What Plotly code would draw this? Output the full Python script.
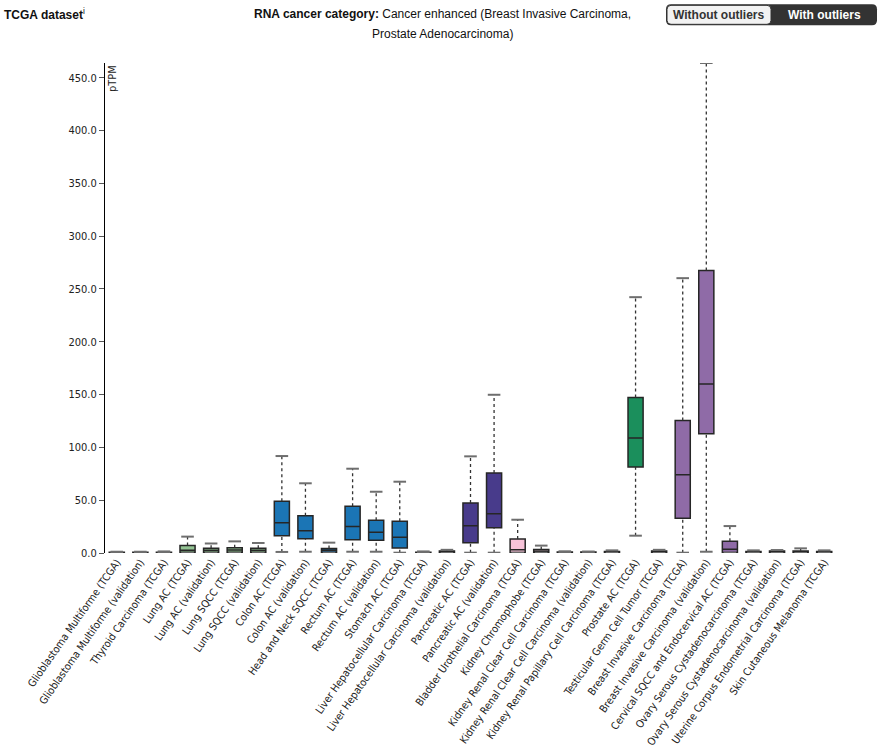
import plotly.graph_objects as go

categories = [
    "Glioblastoma Multiforme (TCGA)", "Glioblastoma Multiforme (validation)",
    "Thyroid Carcinoma (TCGA)", "Lung AC (TCGA)", "Lung AC (validation)",
    "Lung SQCC (TCGA)", "Lung SQCC (validation)", "Colon AC (TCGA)",
    "Colon AC (validation)", "Head and Neck SQCC (TCGA)", "Rectum AC (TCGA)",
    "Rectum AC (validation)", "Stomach AC (TCGA)",
    "Liver Hepatocellular Carcinoma (TCGA)",
    "Liver Hepatocellular Carcinoma (validation)", "Pancreatic AC (TCGA)",
    "Pancreatic AC (validation)", "Bladder Urothelial Carcinoma (TCGA)",
    "Kidney Chromophobe (TCGA)", "Kidney Renal Clear Cell Carcinoma (TCGA)",
    "Kidney Renal Clear Cell Carcinoma (validation)",
    "Kidney Renal Papillary Cell Carcinoma (TCGA)", "Prostate AC (TCGA)",
    "Testicular Germ Cell Tumor (TCGA)", "Breast Invasive Carcinoma (TCGA)",
    "Breast Invasive Carcinoma (validation)",
    "Cervical SQCC and Endocervical AC (TCGA)",
    "Ovary Serous Cystadenocarcinoma (TCGA)",
    "Ovary Serous Cystadenocarcinoma (validation)",
    "Uterine Corpus Endometrial Carcinoma (TCGA)",
    "Skin Cutaneous Melanoma (TCGA)",
]

lower = [0.0, 0.0, 0.0, 0.0, 0.0, 0.0, 0.0, 1.0, 1.2, 0.2, 1.2, 1.2, 0.3, 0.0, 0.0,
         0.3, 0.3, 0.2, 0.2, 0.0, 0.0, 0.0, 16.4, 0.0, 0.3, 1.2, 0.3, 0.0, 0.0, 0.0, 0.0]
q1 = [0.1, 0.1, 0.2, 0.8, 0.8, 0.8, 0.8, 16.4, 13.5, 0.6, 12.6, 12.1, 4.7, 0.2, 0.4,
      9.8, 24.0, 0.4, 0.3, 0.2, 0.2, 0.3, 81.4, 0.4, 32.8, 112.9, 0.4, 0.3, 0.4, 0.4, 0.3]
median = [0.3, 0.3, 0.4, 2.5, 2.5, 2.8, 2.5, 28.7, 21.0, 2.5, 25.2, 19.6, 14.8, 0.4, 1.0,
          25.8, 37.2, 3.0, 1.6, 0.5, 0.5, 0.8, 108.8, 1.0, 74.0, 159.9, 3.6, 0.8, 1.0, 1.0, 0.8]
q3 = [0.6, 0.6, 0.8, 7.0, 4.5, 5.0, 4.5, 48.9, 35.2, 4.2, 44.2, 30.9, 30.0, 0.8, 1.8,
      47.3, 75.7, 13.2, 3.4, 0.9, 0.9, 1.5, 147.3, 1.8, 125.5, 267.5, 11.2, 1.5, 1.8, 2.0, 1.5]
upper = [1.2, 1.2, 1.5, 15.5, 9.0, 11.0, 9.5, 91.8, 66.0, 9.8, 79.8, 58.0, 67.5, 1.5, 3.0,
         91.5, 149.8, 31.5, 7.0, 1.6, 1.4, 2.5, 242.2, 3.0, 260.2, 463.9, 25.5, 2.5, 2.8, 4.4, 2.5]

box_colors = [
    "#9a9a9a", "#9a9a9a", "#c9a0dc", "#93c393", "#93c393", "#93c393", "#93c393",
    "#1b75b5", "#1b75b5", "#1b75b5", "#1b75b5", "#1b75b5", "#1b75b5",
    "#7b3f00", "#7b3f00", "#483b8b", "#483b8b", "#f7c3d9", "#f9d9e6",
    "#f7c3d9", "#f7c3d9", "#f7c3d9", "#1b8f5c", "#1b8f5c", "#8f6ba7", "#8f6ba7",
    "#8f6ba7", "#8f6ba7", "#8f6ba7", "#8f6ba7", "#555555",
]

y_title = "pTPM"

fig = go.Figure()

# dashed whiskers
wx, wy = [], []
for c, lo, a, b, hi in zip(categories, lower, q1, q3, upper):
    wx += [c, c, None, c, c, None]
    wy += [b, hi, None, lo, a, None]
fig.add_trace(go.Scatter(x=wx, y=wy, mode="lines", hoverinfo="skip",
                         line=dict(color="#333333", width=1.3, dash="3px,3px"),
                         showlegend=False))
# whisker caps
fig.add_trace(go.Scatter(x=categories + categories, y=upper + lower, mode="markers",
                         hoverinfo="skip", showlegend=False,
                         marker=dict(symbol="line-ew", size=9,
                                     line=dict(color="#6e6e6e", width=2))))

for c, lo, a, m, b, hi, col in zip(categories, lower, q1, median, q3, upper, box_colors):
    fig.add_trace(go.Box(x=[c], q1=[a], median=[m], q3=[b], lowerfence=[a], upperfence=[b],
                         fillcolor=col, line=dict(color="#262626", width=1.5),
                         width=0.64, showlegend=False, name=c, boxpoints=False))

# pixel -> paper helpers
L, R, T, B = 105, 836, 62.7, 553


def px(x):
    return (x - L) / (R - L)


def py(y):
    return (B - y) / (B - T)


def rrect(x0, y0, x1, y1, r):
    X0, X1, Y0, Y1 = px(x0), px(x1), py(y0), py(y1)
    rx, ry = r / (R - L), r / (B - T)
    return (f"M {X0+rx},{Y0} L {X1-rx},{Y0} Q {X1},{Y0} {X1},{Y0-ry} "
            f"L {X1},{Y1+ry} Q {X1},{Y1} {X1-rx},{Y1} L {X0+rx},{Y1} "
            f"Q {X0},{Y1} {X0},{Y1+ry} L {X0},{Y0-ry} Q {X0},{Y0} {X0+rx},{Y0} Z")


shapes = [
    dict(type="path", xref="paper", yref="paper", path=rrect(666, 4, 877, 25, 5),
         fillcolor="#333333", line=dict(width=0)),
    dict(type="path", xref="paper", yref="paper", path=rrect(667, 5, 771, 24, 4),
         fillcolor="#f2f2f2", line=dict(color="#333333", width=1)),
]

font_main = "Liberation Sans, Arial, sans-serif"
font_tick = "DejaVu Sans Condensed, Liberation Sans, sans-serif"
annotations = [
    dict(text="<b>TCGA dataset</b><sup>i</sup>", xref="paper", yref="paper",
         x=px(2), y=py(14), xanchor="left", yanchor="middle", showarrow=False,
         font=dict(size=12, color="#111", family=font_main)),
    dict(text="<b>RNA cancer category:</b> Cancer enhanced (Breast Invasive Carcinoma,",
         xref="paper", yref="paper", x=px(442), y=py(14), xanchor="center",
         yanchor="middle", showarrow=False,
         font=dict(size=12, color="#111", family=font_main)),
    dict(text="Prostate Adenocarcinoma)", xref="paper", yref="paper", x=px(442),
         y=py(34), xanchor="center", yanchor="middle", showarrow=False,
         font=dict(size=12, color="#111", family=font_main)),
    dict(text="<b>Without outliers</b>", xref="paper", yref="paper", x=px(719),
         y=py(14.5), xanchor="center", yanchor="middle", showarrow=False,
         font=dict(size=12, color="#333", family=font_main)),
    dict(text="<b>With outliers</b>", xref="paper", yref="paper", x=px(824),
         y=py(14.5), xanchor="center", yanchor="middle", showarrow=False,
         font=dict(size=12, color="#ffffff", family=font_main)),
    dict(text=y_title, xref="paper", yref="paper", x=px(104), y=1.0, xanchor="left",
         yanchor="top", textangle=-90, showarrow=False,
         font=dict(size=11, color="#222", family=font_tick)),
]

fig.update_layout(
    width=887, height=753,
    margin=dict(l=L, r=887 - R, t=T, b=753 - B, pad=0, autoexpand=False),
    paper_bgcolor="white", plot_bgcolor="white",
    boxmode="overlay",
    shapes=shapes, annotations=annotations,
    font=dict(family=font_tick, size=10, color="#222"),
    xaxis=dict(type="category", categoryorder="array", categoryarray=categories,
               range=[-0.5, len(categories) - 0.5], tickangle=-55, showgrid=False,
               showline=False, ticks="", zeroline=False, automargin=False,
               tickfont=dict(size=10.6, color="#222", family=font_tick)),
    yaxis=dict(range=[0, max(upper)], tickvals=[0, 50, 100, 150, 200, 250, 300, 350, 400, 450],
               tickformat=".1f", showgrid=False, zeroline=False, showline=True,
               automargin=False,
               linecolor="#000", linewidth=1, ticks="outside", ticklen=5,
               tickcolor="#555", tickfont=dict(size=11, color="#222", family=font_tick)),
)

fig.write_html("out.html", config={"displayModeBar": False},
               post_script="document.body.style.margin='0';document.body.style.overflow='hidden';")
